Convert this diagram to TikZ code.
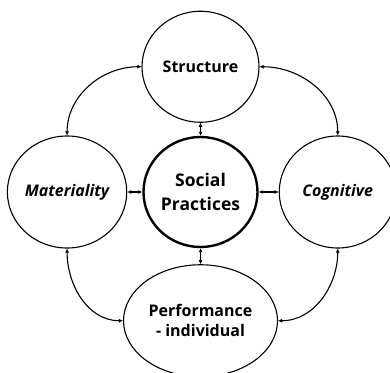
\documentclass[tikz,border=0pt]{standalone}
\usepackage{fontspec}
\setmainfont{Open Sans}
\usetikzlibrary{arrows.meta,positioning,shapes.geometric}
\tikzset{
  bubble/.style={draw, ellipse, line width=1.1pt, inner sep=0pt, align=center,
    minimum width=117pt, minimum height=111pt,
    font=\fontsize{16}{20}\selectfont\bfseries},
  core/.style={bubble, line width=2.4pt, minimum width=114pt, minimum height=110pt,
    font=\fontsize{17.5}{24}\selectfont\bfseries},
  slanted/.style={font=\fontsize{16}{20}\selectfont\bfseries\itshape},
  arrow/.style={{Latex[length=4pt,width=4pt]}-{Latex[length=4pt,width=4pt]}, line width=1.1pt}
}

\begin{document}
\begin{tikzpicture}
    \useasboundingbox (0,0) rectangle (390pt,-372pt);

    % Nodes
    \node[core] (sp) at (200.5pt,-192pt) {Social\\Practices};
    \node[bubble, above=13pt of sp] (struct) {Structure};
    \node[bubble, slanted, minimum width=119pt, minimum height=112pt, left=15pt of sp] (mat) {Materiality};
    \node[bubble, slanted, minimum height=112pt, right=20pt of sp] (cog) {Cognitive};
    \node[bubble, minimum width=154pt, minimum height=112pt, below=16pt of sp] (perf) {Performance\\- individual};

    % Arrows to the centre
    \draw[arrow] (struct) -- (sp);
    \draw[arrow] (mat) -- (sp);
    \draw[arrow] (cog) -- (sp);
    \draw[arrow] (perf) -- (sp);

    % Outer ring
    \draw[arrow] (struct.west) to[out=180, in=90] (mat.north);
    \draw[arrow] (struct.east) to[out=0, in=90] (cog.north);
    \draw[arrow] (mat.south) to[out=-90, in=180] (perf.west);
    \draw[arrow] (cog.south) to[out=-90, in=0] (perf.east);
\end{tikzpicture}
\end{document}
